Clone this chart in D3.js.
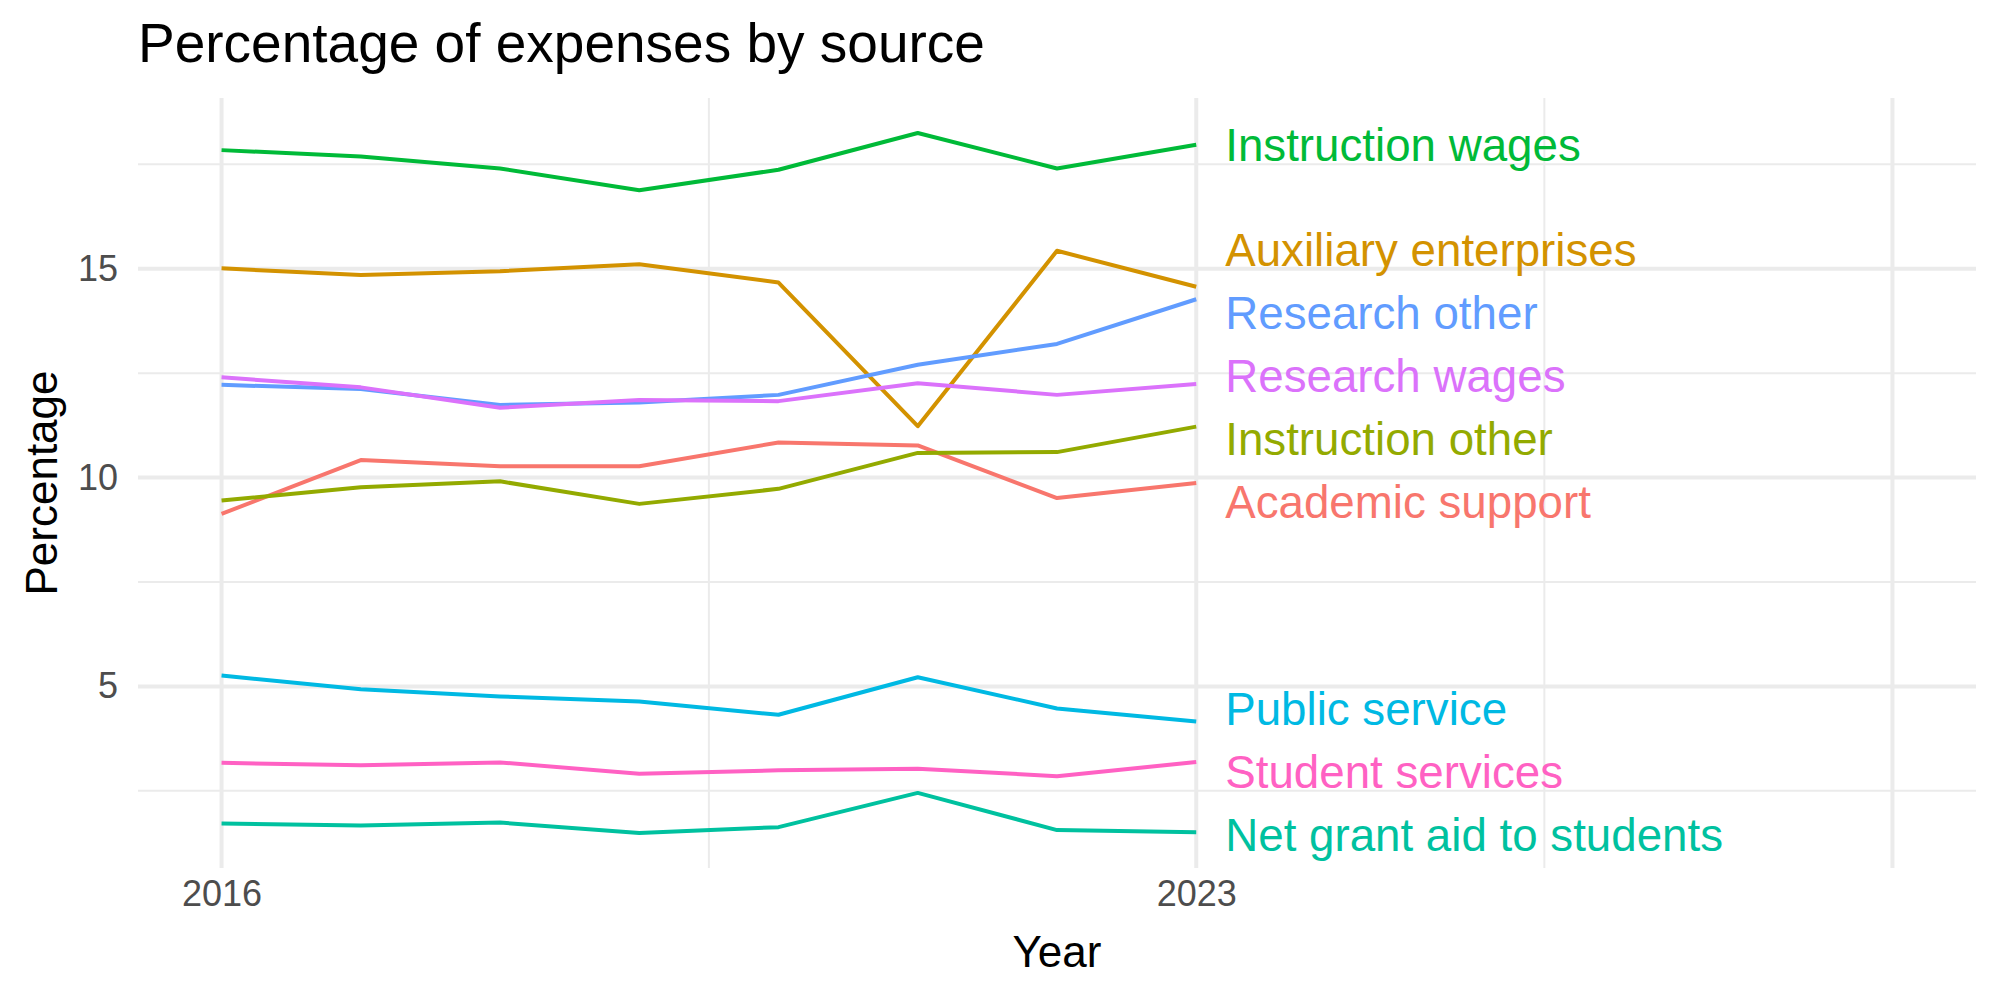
<!DOCTYPE html>
<html>
<head>
<meta charset="utf-8">
<script src="https://cdn.jsdelivr.net/npm/d3@7"></script>
<style>
  html, body { margin: 0; padding: 0; background: #fff; }
  svg { display: block; }
  text { font-family: "Liberation Sans", Arial, Helvetica, sans-serif; }
</style>
</head>
<body>
<svg id="chart" width="2000" height="1000"></svg>
<script>
// ---- data ----
const years = [2016, 2017, 2018, 2019, 2020, 2021, 2022, 2023];
const categories = [
  "Academic support", "Auxiliary enterprises", "Instruction other", "Instruction wages",
  "Net grant aid to students", "Public service", "Research other", "Research wages", "Student services"
];
const academicSupport      = [9.13, 10.42, 10.27, 10.27, 10.84, 10.77, 9.51, 9.87];
const auxiliaryEnterprises = [15.01, 14.85, 14.94, 15.11, 14.67, 11.23, 15.43, 14.57];
const instructionOther     = [9.45, 9.77, 9.91, 9.37, 9.73, 10.59, 10.61, 11.22];
const instructionWages     = [17.84, 17.69, 17.40, 16.88, 17.37, 18.25, 17.40, 17.97];
const netGrantAid          = [1.72, 1.67, 1.74, 1.49, 1.63, 2.45, 1.56, 1.51];
const publicService        = [5.26, 4.93, 4.76, 4.64, 4.32, 5.22, 4.47, 4.16];
const researchOther        = [12.22, 12.12, 11.74, 11.80, 11.98, 12.70, 13.20, 14.27];
const researchWages        = [12.40, 12.16, 11.67, 11.86, 11.83, 12.26, 11.98, 12.24];
const studentServices      = [3.17, 3.11, 3.18, 2.91, 2.99, 3.03, 2.85, 3.19];
const seriesValues = [academicSupport, auxiliaryEnterprises, instructionOther, instructionWages,
  netGrantAid, publicService, researchOther, researchWages, studentServices];
const colors = ["#F8766D", "#D39200", "#93AA00", "#00BA38", "#00C19F", "#00B9E3", "#619CFF", "#DB72FB", "#FF61C3"];
const xTickLabels = ["2016", "2023", ""];
const xMajor = [2016, 2023, 2028];
const xMinor = [2019.5, 2025.5];
const yMajor = [5, 10, 15];
const yMinor = [2.5, 7.5, 12.5, 17.5];
const xLimitsData = [2016, 2028];

// ---- layout ----
const svg = d3.select("#chart");
const panel = { left: 138, right: 1976, top: 98, bottom: 868 };

const xr = xLimitsData[1] - xLimitsData[0];
const x = d3.scaleLinear()
  .domain([xLimitsData[0] - 0.05 * xr, xLimitsData[1] + 0.05 * xr])
  .range([panel.left, panel.right]);
const allVals = seriesValues.flat();
const yMin = d3.min(allVals), yMax = d3.max(allVals), yr = yMax - yMin;
const y = d3.scaleLinear()
  .domain([yMin - 0.05 * yr, yMax + 0.05 * yr])
  .range([panel.bottom, panel.top]);

const grid = svg.append("g");
// minor gridlines
grid.selectAll(".ymin").data(yMinor).join("line")
  .attr("x1", panel.left).attr("x2", panel.right)
  .attr("y1", d => y(d)).attr("y2", d => y(d))
  .attr("stroke", "#EBEBEB").attr("stroke-width", 2);
grid.selectAll(".xmin").data(xMinor).join("line")
  .attr("y1", panel.top).attr("y2", panel.bottom)
  .attr("x1", d => x(d)).attr("x2", d => x(d))
  .attr("stroke", "#EBEBEB").attr("stroke-width", 2);
// major gridlines
grid.selectAll(".ymaj").data(yMajor).join("line")
  .attr("x1", panel.left).attr("x2", panel.right)
  .attr("y1", d => y(d)).attr("y2", d => y(d))
  .attr("stroke", "#EBEBEB").attr("stroke-width", 4);
grid.selectAll(".xmaj").data(xMajor).join("line")
  .attr("y1", panel.top).attr("y2", panel.bottom)
  .attr("x1", d => x(d)).attr("x2", d => x(d))
  .attr("stroke", "#EBEBEB").attr("stroke-width", 4);

// axes text via d3 axes (no domain / ticks lines)
const yAxis = svg.append("g")
  .attr("transform", `translate(${panel.left},0)`)
  .call(d3.axisLeft(y).tickValues(yMajor).tickSize(0).tickPadding(20).tickFormat(d3.format("d")));
yAxis.select(".domain").remove();
yAxis.selectAll("text")
  .attr("font-size", 36).attr("fill", "#4D4D4D")
  .style("font-family", '"Liberation Sans", Arial, sans-serif');

const xAxis = svg.append("g")
  .attr("transform", `translate(0,${panel.bottom})`)
  .call(d3.axisBottom(x).tickValues(xMajor).tickSize(0).tickPadding(12)
    .tickFormat((d, i) => xTickLabels[i]));
xAxis.select(".domain").remove();
xAxis.selectAll("text")
  .attr("font-size", 36).attr("fill", "#4D4D4D")
  .style("font-family", '"Liberation Sans", Arial, sans-serif');

// lines
const line = d3.line().x((d, i) => x(years[i])).y(d => y(d));
svg.append("g").selectAll("path").data(seriesValues).join("path")
  .attr("d", d => line(d))
  .attr("fill", "none")
  .attr("stroke", (d, i) => colors[i])
  .attr("stroke-width", 4)
  .attr("stroke-linejoin", "round");

// end labels with simple repel (cluster merge)
const spacing = 63;
let items = categories.map((c, i) => ({ name: c, color: colors[i], target: y(seriesValues[i][seriesValues[i].length - 1]) }))
  .sort((a, b) => a.target - b.target);
let groups = items.map(it => ({ items: [it], center: it.target }));
let changed = true;
while (changed) {
  changed = false;
  for (let i = 0; i < groups.length - 1; i++) {
    const a = groups[i], b = groups[i + 1];
    const aBottom = a.center + (a.items.length - 1) * spacing / 2;
    const bTop = b.center - (b.items.length - 1) * spacing / 2;
    if (bTop - aBottom < spacing) {
      const merged = a.items.concat(b.items);
      groups.splice(i, 2, { items: merged, center: d3.mean(merged, d => d.target) });
      changed = true;
      break;
    }
  }
}
groups.forEach(g => g.items.forEach((it, k) => {
  it.pos = g.center + (k - (g.items.length - 1) / 2) * spacing;
}));
const lastYear = years[years.length - 1];
svg.append("g").selectAll("text").data(items).join("text")
  .attr("x", x(lastYear) + 29)
  .attr("y", d => d.pos)
  .attr("dy", "0.36em")
  .attr("font-size", 45.7)
  .attr("fill", d => d.color)
  .text(d => d.name);

// titles
svg.append("text").attr("x", panel.left).attr("y", 62)
  .attr("font-size", 55).attr("fill", "#000")
  .text("Percentage of expenses by source");
svg.append("text").attr("x", (panel.left + panel.right) / 2).attr("y", 967)
  .attr("text-anchor", "middle").attr("font-size", 44).attr("fill", "#000")
  .text("Year");
svg.append("text")
  .attr("transform", `translate(57,${(panel.top + panel.bottom) / 2}) rotate(-90)`)
  .attr("text-anchor", "middle").attr("font-size", 44).attr("fill", "#000")
  .text("Percentage");
</script>
</body>
</html>
